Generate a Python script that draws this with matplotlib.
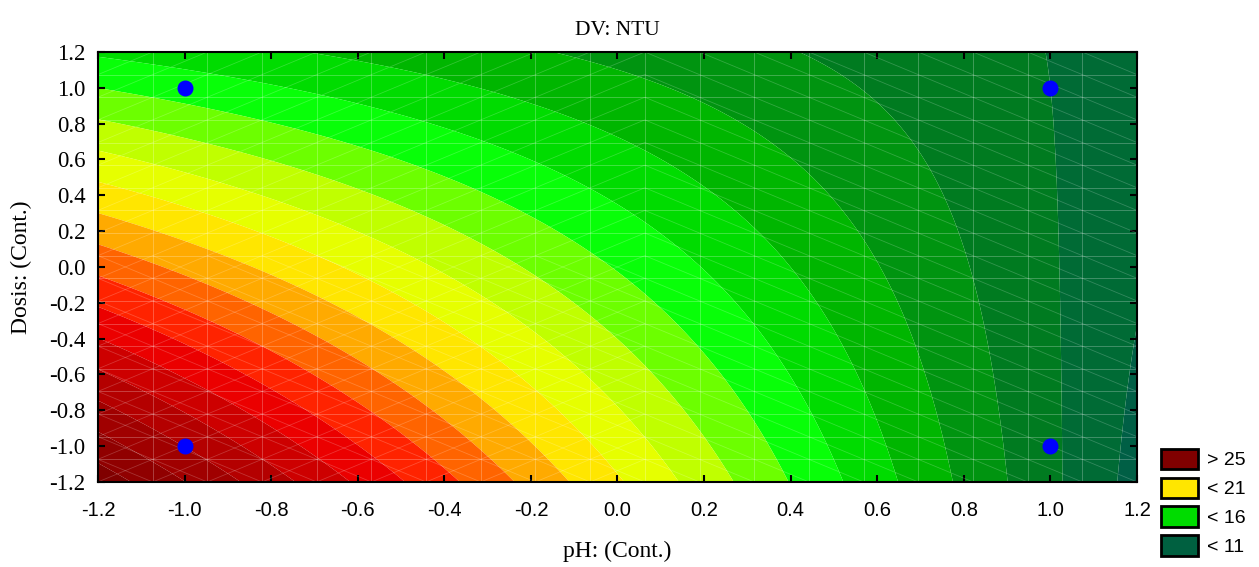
import numpy as np
import matplotlib.pyplot as plt
from matplotlib.patches import Patch
from matplotlib.collections import LineCollection

# ==============================
# DATA (fitted surface, coded units)
# ==============================

# NTU = b0 + b1*pH + b2*Dosis + b12*pH*Dosis
b0, b1, b2, b12 = 16.93, -4.83, -2.66, 2.56

levels = [11, 12, 13, 14, 15, 16, 17, 18, 19, 20, 21, 22, 23, 24, 25, 26, 27, 28, 29]
band_colors = ['#005f45', '#006b35', '#007b20', '#009410', '#00b600', '#00dc00', '#08ff08',
               '#6cff00', '#c0ff00', '#e6ff00', '#ffe600', '#ffaa00', '#ff6400', '#ff2300',
               '#eb0000', '#cd0000', '#b40000', '#a00000', '#900000', '#800000']

design_ph = [-1, -1, 1, 1]
design_dosis = [-1, 1, -1, 1]

legend_labels = ['> 25', '< 21', '< 16', '< 11']
legend_colors = ['#800000', '#ffe600', '#00dc00', '#006040']

ticks = [-1.2, -1.0, -0.8, -0.6, -0.4, -0.2, 0.0, 0.2, 0.4, 0.6, 0.8, 1.0, 1.2]

# ==============================
# SURFACE
# ==============================

xg = np.linspace(-1.2, 1.2, 400)
yg = np.linspace(-1.2, 1.2, 400)
X, Y = np.meshgrid(xg, yg)
Z = b0 + b1 * X + b2 * Y + b12 * X * Y

fig = plt.figure(figsize=(12.59, 5.67), dpi=100)
ax = fig.add_axes([0.0778, 0.150, 0.8253, 0.7583])

ax.contourf(X, Y, Z, levels=[-100] + levels + [100], colors=band_colors, antialiased=True)

# faint mesh lines like the original renderer
mesh = np.linspace(-1.2, 1.2, 20)
segs = []
for m in mesh:
    segs.append([(m, -1.2), (m, 1.2)])
    segs.append([(-1.2, m), (1.2, m)])
ax.add_collection(LineCollection(segs, colors='white', linewidths=0.7, alpha=0.25))
diag = []
for i in range(19):
    for j in range(19):
        x0, x1 = mesh[i], mesh[i + 1]
        y0, y1 = mesh[j], mesh[j + 1]
        if x0 < 0:
            diag.append([(x0, y0), (x1, y1)])
            if y0 < 0:
                diag.append([(x0, y1), (x1, y0)])
        else:
            diag.append([(x0, y1), (x1, y0)])
ax.add_collection(LineCollection(diag, colors='white', linewidths=0.6, alpha=0.2))

ax.plot(design_ph, design_dosis, 'o', color='#0000ff', ms=10.5, zorder=5)

ax.set_xlim(-1.2, 1.2)
ax.set_ylim(-1.2, 1.2)
ax.set_xticks(ticks)
ax.set_yticks(ticks)
ax.set_xticklabels(['%.1f' % t for t in ticks], fontname='Liberation Sans', fontsize=14.5)
ax.set_yticklabels(['%.1f' % t for t in ticks], fontname='Liberation Serif', fontsize=16.5)
ax.tick_params(direction='in', top=True, right=True, length=5, width=1.5)
ax.tick_params(axis='x', pad=14)
ax.tick_params(axis='y', pad=9)
for s in ax.spines.values():
    s.set_linewidth(1.5)

ax.set_title('DV: NTU', fontname='Liberation Serif', fontsize=15.5, pad=12)
ax.set_xlabel('pH: (Cont.)', fontname='Liberation Serif', fontsize=17, labelpad=15)
ax.set_ylabel('Dosis: (Cont.)', fontname='Liberation Serif', fontsize=17, labelpad=12)

handles = [Patch(facecolor=c, edgecolor='black', linewidth=2) for c in legend_colors]
fig.legend(handles, legend_labels, loc='lower left', bbox_to_anchor=(0.908, -0.012),
           frameon=False, prop={'family': 'Liberation Sans', 'size': 14},
           handlelength=1.9, handleheight=1.25, handletextpad=0.5, labelspacing=0.42)

fig.savefig('out.png', dpi=100)
